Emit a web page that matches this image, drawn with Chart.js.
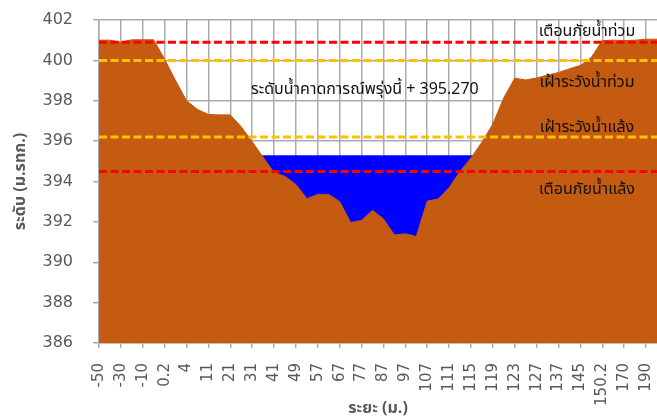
<!DOCTYPE html>
<html>
<head>
<meta charset="utf-8">
<script src="https://cdn.jsdelivr.net/npm/chart.js@4.4.1/dist/chart.umd.min.js"></script>
<style>
  html, body { margin: 0; padding: 0; background: #fff; overflow: hidden; }
  #wrap { width: 657px; height: 419px; }
</style>
</head>
<body>
<div id="wrap"><canvas id="chartSection" width="657" height="419"></canvas></div>
<script>
  // Cross-section: distance (m) vs ground level (m. MSL)
  const distances = [
    '-50', '-40', '-30', '-20', '-10', '-5', '0.2', '2', '4', '7',
    '11', '16', '21', '26', '31', '36', '41', '45', '49', '53',
    '57', '62', '67', '72', '77', '82', '87', '92', '97', '102',
    '107', '109', '111', '113', '115', '117', '119', '121', '123', '125',
    '127', '132', '137', '141', '145', '148', '150.2', '160', '170', '180',
    '190', '210'
  ];

  const groundLevel = [
    401.0, 401.0, 400.9, 401.02, 401.02, 401.02, 400.05, 399.0, 398.0, 397.57,
    397.32, 397.3, 397.3, 396.71, 395.97, 395.2, 394.45, 394.25, 393.85, 393.15,
    393.36, 393.36, 393.0, 391.97, 392.07, 392.57, 392.14, 391.35, 391.41, 391.28,
    393.03, 393.13, 393.7, 394.5, 395.17, 395.95, 396.85, 398.15, 399.12, 399.03,
    399.13, 399.27, 399.4, 399.58, 399.75, 400.15, 400.98, 401.0, 400.98, 401.0,
    401.05, 401.05
  ];

  const forecastLevel = 395.27;
  const floodWarn = 400.9;
  const floodWatch = 400.0;
  const droughtWatch = 396.2;
  const droughtWarn = 394.5;

  const yMin = 386, yMax = 402, yStep = 2;

  // water surface only where the ground sits below it (one step wider, ground covers the rest)
  const waterLevel = groundLevel.map((g, i) =>
    (g < forecastLevel || groundLevel[i - 1] < forecastLevel || groundLevel[i + 1] < forecastLevel)
      ? forecastLevel : null);

  const flat = v => distances.map(() => v);

  const FONT = '"DejaVu Sans", sans-serif';
  const THAI = '"Noto Sans Thai", "Noto Sans", "DejaVu Sans", sans-serif';
  const GRID = '#ABABAB';
  const AXIS_TXT = '#595959';

  // text notes, placed in axis units (category index, level)
  const notes = [
    { text: 'เตือนภัยน้ำท่วม', at: [44.6, 401.38] },
    { text: 'เฝ้าระวังน้ำท่วม', at: [44.6, 398.85] },
    { text: 'ระดับน้ำคาดการณ์พรุ่งนี้ + ' + forecastLevel.toFixed(3), at: [24.3, 398.48] },
    { text: 'เฝ้าระวังน้ำแล้ง', at: [44.6, 396.6] },
    { text: 'เตือนภัยน้ำแล้ง', at: [44.6, 393.53] }
  ];

  const notesPlugin = {
    id: 'notes',
    afterDatasetsDraw(chart) {
      const { ctx, scales: { x, y } } = chart;
      ctx.save();
      ctx.font = '16px ' + THAI;
      ctx.fillStyle = '#111';
      ctx.textAlign = 'center';
      ctx.textBaseline = 'middle';
      notes.forEach(n => {
        ctx.fillText(n.text, x.getPixelForValue(n.at[0]), y.getPixelForValue(n.at[1]));
      });
      ctx.restore();
    }
  };

  const dashed = (data, color) => ({
    data,
    borderColor: color,
    borderWidth: 3,
    borderDash: [8, 3.5],
    pointRadius: 0,
    fill: false,
    order: 0
  });

  new Chart(document.getElementById('chartSection'), {
    type: 'line',
    data: {
      labels: distances,
      datasets: [
        dashed(flat(floodWarn), '#FF0000'),
        dashed(flat(floodWatch), '#FFC000'),
        dashed(flat(droughtWatch), '#FFC000'),
        dashed(flat(droughtWarn), '#FF0000'),
        {
          data: groundLevel,
          borderColor: '#C55A11',
          borderWidth: 1,
          backgroundColor: '#C55A11',
          pointRadius: 0,
          tension: 0,
          fill: 'start',
          order: 1
        },
        {
          data: waterLevel,
          borderColor: '#0000FF',
          borderWidth: 1,
          backgroundColor: '#0000FF',
          pointRadius: 0,
          spanGaps: false,
          fill: 'start',
          order: 2
        }
      ]
    },
    options: {
      responsive: false,
      animation: false,
      layout: { padding: { top: 20, right: 0, left: 0, bottom: 0 } },
      plugins: { legend: { display: false }, tooltip: { enabled: false } },
      scales: {
        x: {
          type: 'category',
          offset: false,
          grid: {
            color: c => (c.index % 2 ? 'rgba(0,0,0,0)' : GRID),
            lineWidth: 1.5,
            tickLength: 5
          },
          border: { color: GRID, width: 1.5 },
          ticks: {
            autoSkip: false,
            maxRotation: 90,
            minRotation: 90,
            padding: 15,
            color: AXIS_TXT,
            font: { family: FONT, size: 15 },
            callback(v, i) { return i % 2 ? '' : this.getLabelForValue(v); }
          },
          title: {
            display: true,
            text: 'ระยะ (ม.)',
            color: AXIS_TXT,
            font: { family: THAI, size: 16, weight: 'bold' },
            padding: { top: 2, bottom: 0 }
          },
          afterFit(scale) {
            scale.height = 76;
            scale.paddingLeft = 0;
            scale.paddingRight = 0;
          }
        },
        y: {
          min: yMin,
          max: yMax,
          grid: { color: GRID, lineWidth: 1.5, tickLength: 6 },
          border: { color: GRID, width: 1.5 },
          ticks: {
            stepSize: yStep,
            padding: 20,
            color: AXIS_TXT,
            font: { family: FONT, size: 16 }
          },
          title: {
            display: true,
            text: 'ระดับ (ม.รทก.)',
            color: AXIS_TXT,
            font: { family: THAI, size: 16, weight: 'bold' },
            padding: { top: 12, bottom: 0 }
          },
          afterFit(scale) {
            scale.width = 99;
            scale.paddingTop = 0;
            scale.paddingBottom = 0;
          }
        }
      }
    },
    plugins: [notesPlugin]
  });
</script>
</body>
</html>
